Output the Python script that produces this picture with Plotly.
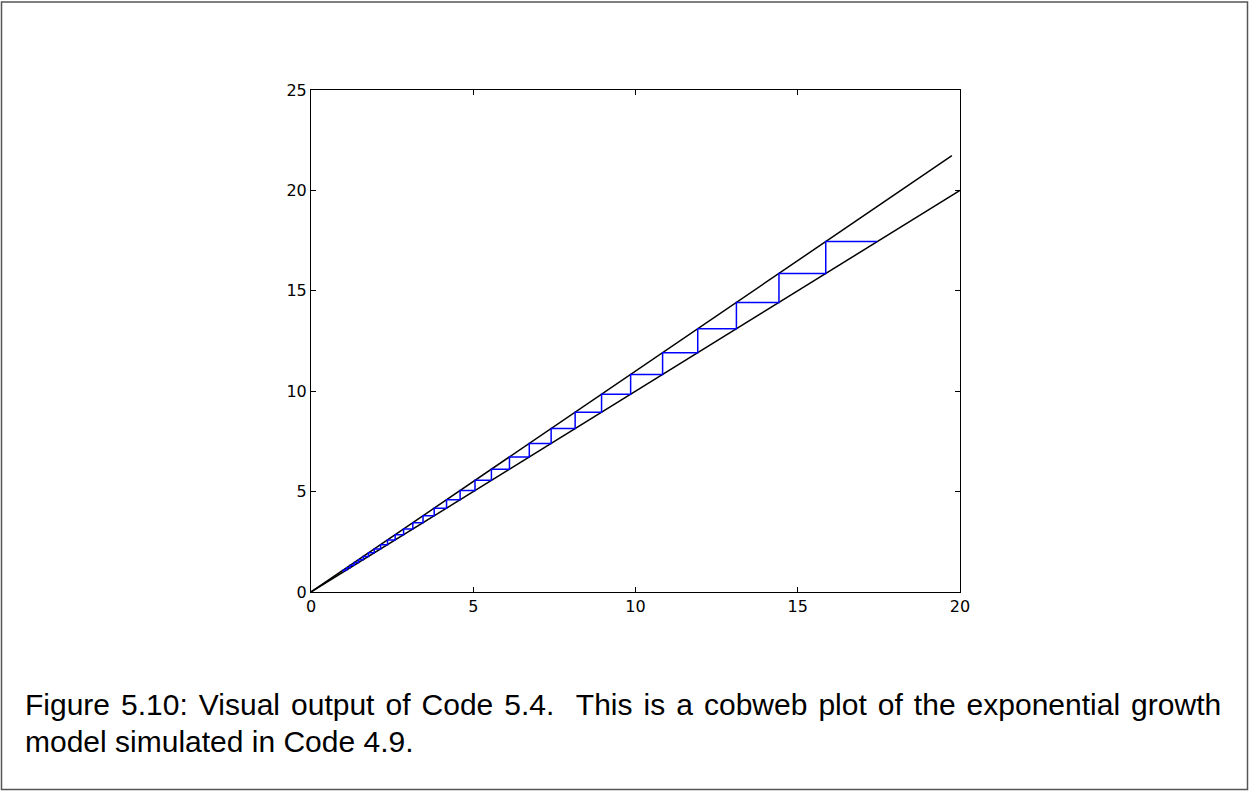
import plotly.graph_objects as go

# cobweb iterates (x_t, x_{t+1} pairs of the staircase)
iterates = [1.0, 1.1, 1.21, 1.331, 1.464, 1.611, 1.772, 1.949, 2.144, 2.358,
            2.594, 2.853, 3.138, 3.452, 3.797, 4.177, 4.595, 5.054, 5.560,
            6.116, 6.727, 7.400, 8.140, 8.954, 9.850, 10.835, 11.918, 13.110,
            14.421, 15.863, 17.449]

# black reference lines: growth map and diagonal
map_x = [0.0, 19.75]
map_y = [0.0, 21.73]
diag_x = [0.0, 20.0]
diag_y = [0.0, 20.0]

x_ticks = [0, 5, 10, 15, 20]
y_ticks = [0, 5, 10, 15, 20, 25]

caption_line1 = "Figure 5.10: Visual output of Code 5.4.  This is a cobweb plot of the exponential growth"
caption_line2 = "model simulated in Code 4.9."

# build staircase path
cx, cy = [], []
for i in range(len(iterates) - 1):
    a, b = iterates[i], iterates[i + 1]
    cx += [a, a]
    cy += [a, b]
cx.append(iterates[-1])
cy.append(iterates[-1])

W, H = 1249, 792
L, R, T, B = 311, 960, 90, 592
pw, ph = R - L, B - T

def px(x):
    return (x - L) / pw

def py(y):
    return (B - y) / ph

fig = go.Figure()
fig.add_trace(go.Scatter(x=map_x, y=map_y, mode="lines",
                         line=dict(color="black", width=1.5), showlegend=False))
fig.add_trace(go.Scatter(x=diag_x, y=diag_y, mode="lines",
                         line=dict(color="black", width=1.5), showlegend=False))
fig.add_trace(go.Scatter(x=cx, y=cy, mode="lines",
                         line=dict(color="#0000ff", width=1.5), showlegend=False))

axis_common = dict(showgrid=False, zeroline=False, showline=True, mirror="allticks",
                   linecolor="black", linewidth=1, ticks="inside", ticklen=5,
                   tickcolor="black", tickwidth=1,
                   tickfont=dict(family="DejaVu Sans", size=16, color="black"))

cap_font = dict(family="Liberation Sans", size=30, color="black")

fig.update_layout(
    width=W, height=H,
    margin=dict(l=L, r=W - R, t=T, b=H - B, pad=0),
    paper_bgcolor="white", plot_bgcolor="white",
    xaxis=dict(range=[0, 20], tickvals=x_ticks, ticktext=[str(v) for v in x_ticks], **axis_common),
    yaxis=dict(range=[0, 25], tickvals=y_ticks, ticktext=[str(v) for v in y_ticks], **axis_common),
    shapes=[dict(type="rect", xref="paper", yref="paper",
                 x0=px(1.5), x1=px(1247.5), y0=py(789.5), y1=py(2),
                 line=dict(color="#555555", width=1.5), fillcolor="rgba(0,0,0,0)", layer="below")],
    annotations=[
        dict(text='<span style="word-spacing:2.7px">' + caption_line1 + '</span>',
             xref="paper", yref="paper", x=px(23), y=py(704),
             xanchor="left", yanchor="middle", showarrow=False, font=cap_font),
        dict(text=caption_line2, xref="paper", yref="paper", x=px(23), y=py(741),
             xanchor="left", yanchor="middle", showarrow=False, font=cap_font),
    ],
)

fig.write_html("out.html")
